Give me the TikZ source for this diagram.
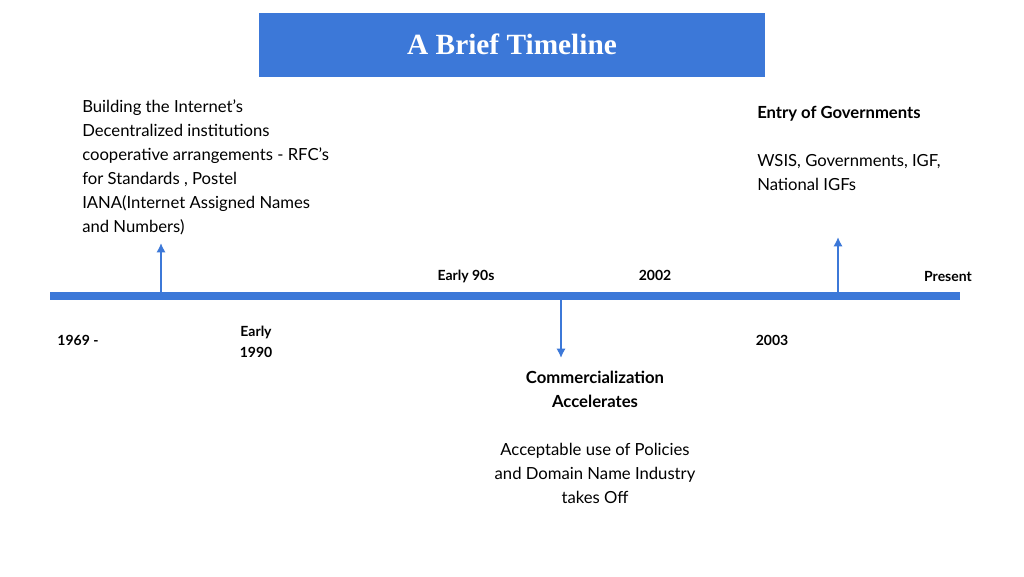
\documentclass[tikz,border=0pt]{standalone}
\usepackage{fontspec}
\setmainfont{Lato}
\newfontfamily\titlefont{Liberation Serif}
\definecolor{tblue}{HTML}{3C78D8}
\begin{document}
\begin{tikzpicture}[x=0.75pt,y=-0.75pt,
  body/.style={font=\fontsize{12.5}{18}\selectfont,inner sep=0pt},
  lab/.style={font=\bfseries\fontsize{10.5}{15.5}\selectfont,inner sep=0pt,align=center},
  arr/.style={tblue,line width=2.2pt,-{Latex[length=7pt,width=7pt]}}]
\usetikzlibrary{arrows.meta}
\useasboundingbox (0,0) rectangle (1024,576);
\fill[tblue] (259,13) rectangle (765,77);
\node[font=\titlefont\bfseries\fontsize{22}{26}\selectfont,text=white] (title) at (512,44) {A Brief Timeline};
\coordinate (l0) at (50,296); \coordinate (l1) at (960,296);
\draw[tblue,line width=6pt] (l0) -- (l1);
\coordinate (a0) at (161,293); \coordinate (a1) at (161,243);
\coordinate (b0) at (838,293); \coordinate (b1) at (838,237);
\coordinate (c0) at (561,300); \coordinate (c1) at (561,358);
\draw[arr] (a0) -- (a1);
\draw[arr] (b0) -- (b1);
\draw[arr] (c0) -- (c1);
\node[body,anchor=north west,align=left] (left) at (82,99) {Building the Internet’s\\Decentralized institutions\\cooperative arrangements - RFC’s\\for Standards , Postel\\IANA(Internet Assigned Names\\and Numbers)};
\node[body,anchor=north west,align=left] (right) at (757,106) {\textbf{Entry of Governments}\\[6pt]\\[-6pt]WSIS, Governments, IGF,\\National IGFs};
\node[body,anchor=north,align=center] (mid) at (595,371) {\textbf{Commercialization}\\\textbf{Accelerates}\\[6pt]\\[-6pt]Acceptable use of Policies\\and Domain Name Industry\\takes Off};
\node[lab] (e90) at (466,276) {Early 90s};
\node[lab] (y02) at (655,275) {2002};
\node[lab] (pr) at (948,276) {Present};
\node[lab] (y69) at (78,340) {1969 -};
\node[lab] (e1990) at (256,342) {Early\\1990};
\node[lab] (y03) at (772,340) {2003};
\end{tikzpicture}
\end{document}
